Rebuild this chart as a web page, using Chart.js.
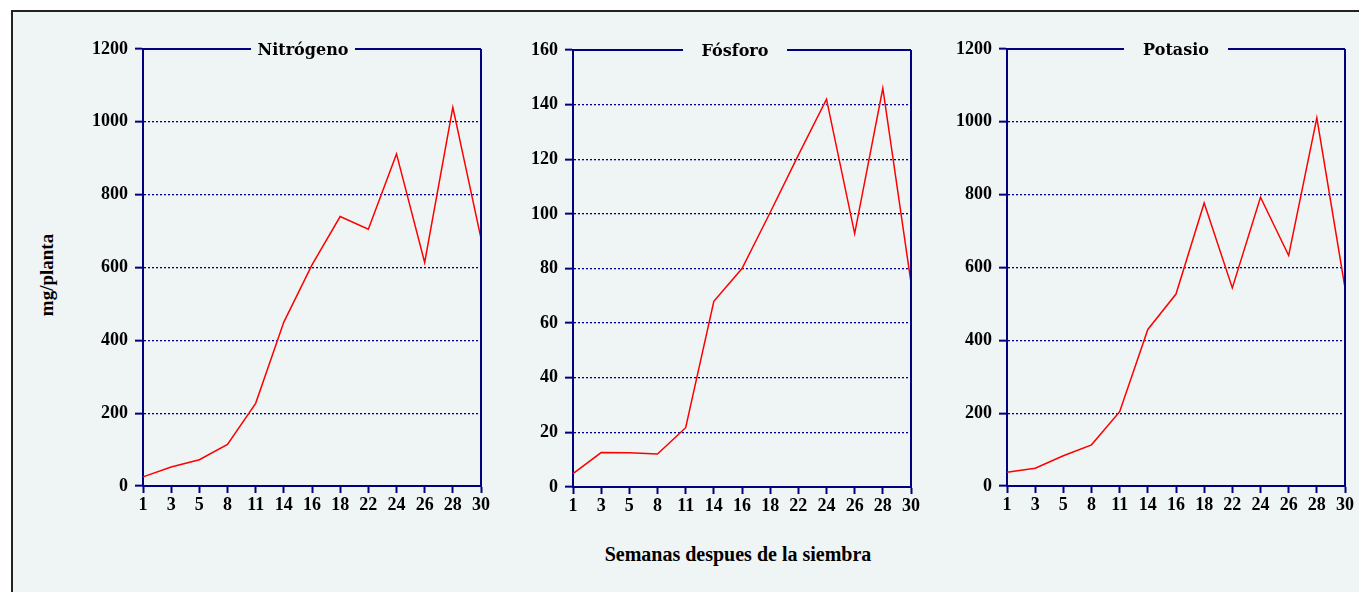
<!DOCTYPE html>
<html>
<head>
<meta charset="utf-8">
<script src="https://cdn.jsdelivr.net/npm/chart.js@4"></script>
<style>
    body { margin: 0; background: #fff; width: 1359px; height: 592px; overflow: hidden; position: relative; }
    #frame { position: absolute; left: 11px; top: 10px; width: 1400px; height: 640px;
             border-left: 2px solid #222; border-top: 2px solid #222; background: #eff4f4; }
    canvas { position: absolute; }
    .ylab { position: absolute; left: 47px; top: 275px; transform: translate(-50%, -50%) rotate(-90deg);
            font: bold 19px "Liberation Serif"; white-space: nowrap; color: #000; }
    .xlab { position: absolute; left: 738px; top: 554px; transform: translate(-50%, -50%);
            font: bold 20px "Liberation Serif"; white-space: nowrap; color: #000; }
</style>
</head>
<body>
<div id="frame"></div>
<canvas id="c1" width="410" height="526" style="left:88px;top:0px"></canvas>
<canvas id="c2" width="410" height="526" style="left:518px;top:1px"></canvas>
<canvas id="c3" width="407" height="526" style="left:952px;top:0px"></canvas>
<div class="ylab">mg/planta</div>
<div class="xlab">Semanas despues de la siembra</div>
<script>
const weeks = ['1', '3', '5', '8', '11', '14', '16', '18', '22', '24', '26', '28', '30'];
const nitrogeno = [25, 52, 72, 114, 227, 450, 607, 740, 705, 912, 614, 1040, 680];
const fosforo = [4.9, 12.6, 12.5, 12.1, 21.7, 68, 80, 100.5, 121.5, 142, 92.8, 146, 74.8];
const potasio = [38, 49, 83, 113, 204, 430, 527, 777, 544, 793, 633, 1011, 544];

const navy = '#000080';
const tickFont = { family: 'Liberation Serif', size: 18, weight: 'bold' };

// top border with a gap for the title, plus right border
const panelFrame = {
    id: 'panelFrame',
    afterDraw(chart, args, opts) {
        const { ctx, chartArea: { left, right, top, bottom } } = chart;
        const cx = (left + right) / 2 + (opts.dx || 0);
        const half = 52;
        ctx.save();
        ctx.strokeStyle = navy;
        ctx.lineWidth = 2;
        ctx.beginPath();
        ctx.moveTo(left, top);
        ctx.lineTo(cx - half, top);
        ctx.moveTo(cx + half, top);
        ctx.lineTo(right, top);
        ctx.moveTo(right, top);
        ctx.lineTo(right, bottom);
        ctx.stroke();
        ctx.fillStyle = '#000';
        ctx.font = 'bold 16px "DejaVu Serif"';
        ctx.textAlign = 'center';
        ctx.textBaseline = 'alphabetic';
        ctx.fillText(opts.text, cx, top + 6);
        ctx.restore();
    }
};

function makeChart(id, title, values, max, step, dx) {
    new Chart(document.getElementById(id), {
        type: 'line',
        data: {
            labels: weeks,
            datasets: [{
                data: values,
                borderColor: '#ff0000',
                borderWidth: 1.5,
                pointRadius: 0,
                tension: 0,
                fill: false
            }]
        },
        options: {
            responsive: false,
            animation: false,
            layout: { padding: { top: 49, right: id === 'c3' ? 14 : 17, left: 0, bottom: 0 } },
            plugins: {
                legend: { display: false },
                tooltip: { enabled: false },
                panelFrame: { text: title, dx: dx }
            },
            scales: {
                x: {
                    offset: false,
                    grid: { drawOnChartArea: false, drawTicks: true, tickLength: 7, tickColor: navy, tickWidth: 2 },
                    border: { color: navy, width: 2 },
                    ticks: { color: '#000', font: tickFont, maxRotation: 0, autoSkip: false, padding: 2 },
                    afterFit: s => { s.height = 40; }
                },
                y: {
                    min: 0,
                    max: max,
                    grid: {
                        color: c => (c.tick && (c.tick.value === max || c.tick.value === 0)) ? 'rgba(0,0,0,0)' : navy,
                        lineWidth: 1.3,
                        tickLength: 8,
                        tickColor: navy,
                        tickWidth: 2
                    },
                    border: { color: navy, width: 2, dash: [2, 2] },
                    ticks: { stepSize: step, color: '#000', font: tickFont, padding: 7, callback: v => String(v) },
                    afterFit: s => { s.width = 55; }
                }
            }
        },
        plugins: [panelFrame]
    });
}

makeChart('c1', 'Nitrógeno', nitrogeno, 1200, 200, -9);
makeChart('c2', 'Fósforo', fosforo, 160, 20, -7);
makeChart('c3', 'Potasio', potasio, 1200, 200, 0);
</script>
</body>
</html>
